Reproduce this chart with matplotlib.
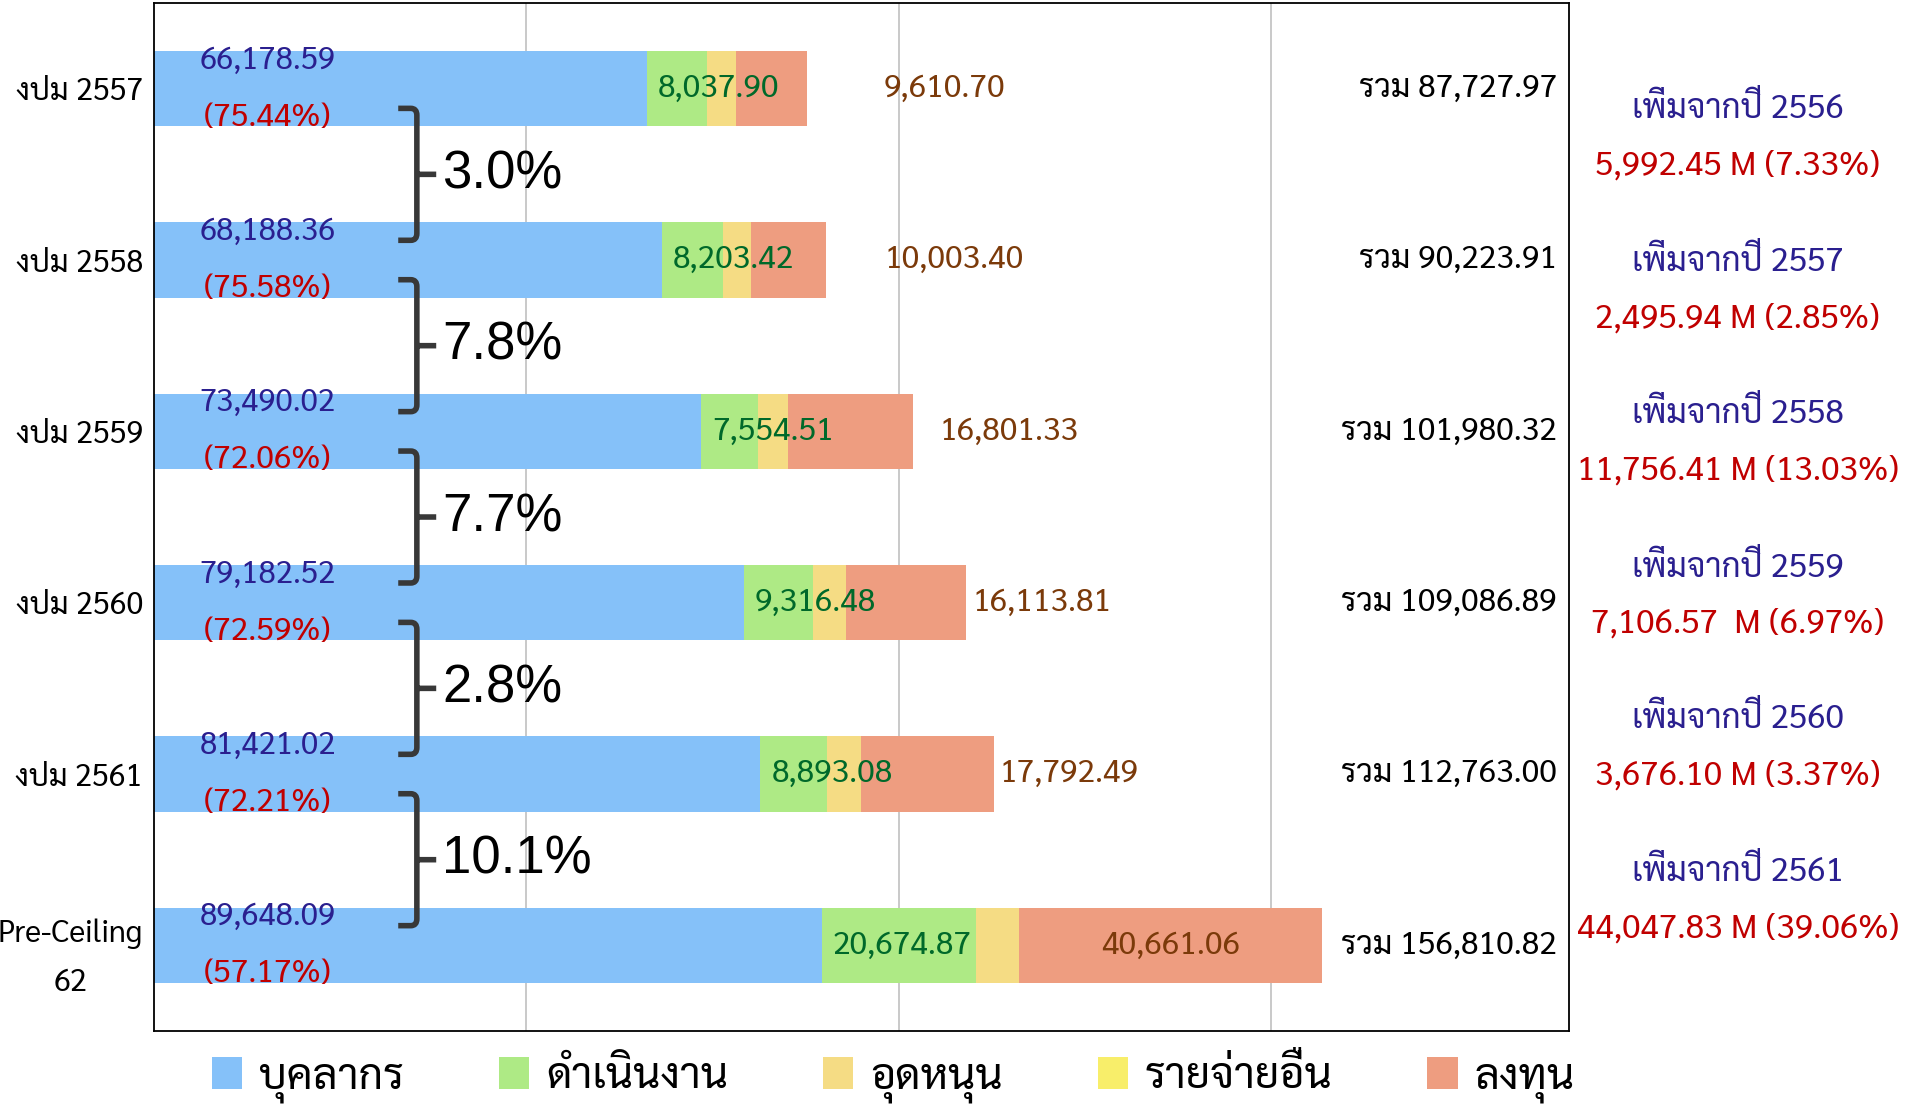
import numpy as np
import matplotlib
matplotlib.use("Agg")
import matplotlib.pyplot as plt
from matplotlib import font_manager
from matplotlib.path import Path
from matplotlib.patches import PathPatch
from matplotlib.transforms import blended_transform_factory

# pick a Thai font that is installed
names = {f.name for f in font_manager.fontManager.ttflist}
thai = next((n for n in ['Sarabun', 'Noto Sans Thai Looped', 'Noto Sans Thai', 'Athiti'] if n in names), 'DejaVu Sans')
plt.rcParams['font.family'] = [thai, 'DejaVu Sans']

# data (million baht)
categories = ['งปม 2557', 'งปม 2558', 'งปม 2559', 'งปม 2560', 'งปม 2561', 'Pre-Ceiling\n62']
personnel = [66178.59, 68188.36, 73490.02, 79182.52, 81421.02, 89648.09]
operating = [8037.90, 8203.42, 7554.51, 9316.48, 8893.08, 20674.87]
subsidy = [3900.78, 3828.73, 4134.46, 4474.08, 4656.41, 5826.80]
other_exp = [0, 0, 0, 0, 0, 0]
investment = [9610.70, 10003.40, 16801.33, 16113.81, 17792.49, 40661.06]
totals = [87727.97, 90223.91, 101980.32, 109086.89, 112763.00, 156810.82]
personnel_share = [75.44, 75.58, 72.06, 72.59, 72.21, 57.17]
growth_personnel = [3.0, 7.8, 7.7, 2.8, 10.1]
prev_years = [2556, 2557, 2558, 2559, 2560, 2561]
increase_m = ['5,992.45', '2,495.94', '11,756.41', '7,106.57 ', '3,676.10', '44,047.83']
increase_pct = [7.33, 2.85, 13.03, 6.97, 3.37, 39.06]

series_names = ['บุคลากร', 'ดำเนินงาน', 'อุดหนุน', 'รายจ่ายอื่น', 'ลงทุน']
colors = ['#85C1F9', '#AEEA85', '#F5DC84', '#F8EE6A', '#EE9D80']

fig = plt.figure(figsize=(19.17, 11.09), dpi=100)
ax = fig.add_axes([0.0803, 0.0703, 0.7382, 0.9270])

y = np.arange(len(categories))
left = np.zeros(len(categories))
for vals, name, c in zip([personnel, operating, subsidy, other_exp, investment], series_names, colors):
    ax.barh(y, vals, left=left, height=0.44, color=c, label=name, zorder=2)
    left = left + np.array(vals)

ax.set_xlim(0, 190000)
ax.set_ylim(len(categories) - 0.5, -0.5)
ax.set_xticks([50000, 100000, 150000])
ax.xaxis.grid(True, color='#C0C0C0', linewidth=1.2, zorder=0)
ax.tick_params(axis='x', length=0, labelbottom=False)
ax.tick_params(axis='y', length=0, pad=8)
ax.set_yticks(y)
ax.set_yticklabels(categories, fontsize=22, linespacing=1.8, multialignment='center')
for s in ax.spines.values():
    s.set_color('black')
    s.set_linewidth(1.3)

blue_txt = '#2A1F8F'
red_txt = '#C00000'
green_txt = '#00692A'
brown_txt = '#7B3A0A'

inv_offset_pt = [55, 42, 19, 4, 4, None]
for i in range(len(categories)):
    ax.text(15300, i - 0.165, f'{personnel[i]:,.2f}', color=blue_txt, fontsize=22.5, ha='center', va='center', zorder=5)
    ax.text(15300, i + 0.17, f'({personnel_share[i]:.2f}%)', color=red_txt, fontsize=23, ha='center', va='center', zorder=5)
    ax.text(personnel[i] + 1500, i, f'{operating[i]:,.2f}', color=green_txt, fontsize=23, ha='left', va='center', zorder=5)
    end = totals[i]
    if inv_offset_pt[i] is None:
        ax.text(end - investment[i] / 2, i, f'{investment[i]:,.2f}', color=brown_txt, fontsize=23, ha='center', va='center', zorder=5)
    else:
        ax.annotate(f'{investment[i]:,.2f}', xy=(end, i), xytext=(inv_offset_pt[i], 0), textcoords='offset points',
                    color=brown_txt, fontsize=23, ha='left', va='center', zorder=5)
    ax.text(0.9915, i, f'รวม {totals[i]:,.2f}', transform=blended_transform_factory(ax.transAxes, ax.transData),
            fontsize=23, ha='right', va='center', zorder=5)

# braces with growth of personnel budget
for k, g in enumerate(growth_personnel):
    mid = k + 0.5
    top, bot = mid - 0.385, mid + 0.385
    xh, xs, xt = 32800, 35300, 37900
    verts = [(xh, top), (xs - 800, top), (xs, top), (xs, top + 0.04), (xs, bot - 0.04), (xs, bot), (xs - 800, bot), (xh, bot),
             (xs, mid), (xt, mid)]
    codes = [Path.MOVETO, Path.LINETO, Path.CURVE3, Path.CURVE3, Path.LINETO, Path.CURVE3, Path.CURVE3, Path.LINETO,
             Path.MOVETO, Path.LINETO]
    ax.add_patch(PathPatch(Path(verts, codes), fill=False, edgecolor='#383838', linewidth=4.0,
                           capstyle='butt', joinstyle='round', zorder=6, clip_on=False))
    ax.text(38700, mid, f'{g:.1f}%', fontsize=38, family='Liberation Sans', ha='left', va='center', zorder=6)

# increase from previous year, right of the plot
tr = blended_transform_factory(fig.transFigure, ax.transData)
for i in range(len(categories)):
    yb = 0.12 + 0.89 * i
    ax.text(0.9065, yb, f'เพิ่มจากปี {prev_years[i]}', transform=tr, color=blue_txt, fontsize=24, ha='center', va='center', clip_on=False)
    ax.text(0.9065, yb + 0.33, f'{increase_m[i]} M ({increase_pct[i]:.2f}%)', transform=tr, color=red_txt, fontsize=24,
            ha='center', va='center', clip_on=False)

fig.legend(loc='center', bbox_to_anchor=(0.466, 0.027), ncol=5, frameon=False, fontsize=31,
           handlelength=0.71, handleheight=0.75, handletextpad=0.39, columnspacing=2.2)

fig.savefig('out.png', dpi=100)
